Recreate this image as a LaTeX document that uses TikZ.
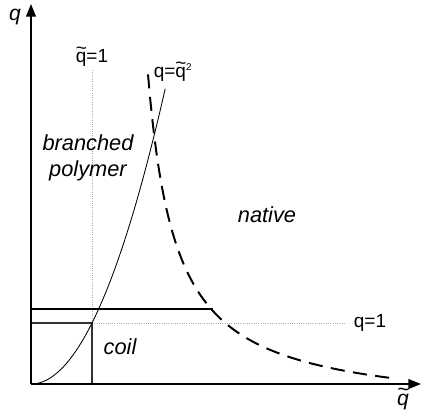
\documentclass[tikz,border=0pt]{standalone}
\usepackage{fontspec}
\setmainfont{Liberation Sans}
\usetikzlibrary{arrows.meta}
\newcommand\tq{\makebox[0pt][l]{\raisebox{0.40em}{\textasciitilde}}q}
\begin{document}
\begin{tikzpicture}[x=0.025cm,y=-0.025cm,
 axis/.style={line width=1pt, -{Triangle[length=9pt,width=7pt]}},
 guide/.style={gray!65, densely dotted, line width=0.6pt},
 boxline/.style={black!80, line width=1pt},
 limitline/.style={black, line width=1.4pt},
 dashcurve/.style={black, line width=1.4pt, dash pattern=on 10pt off 6pt},
 parab/.style={black, line width=0.6pt},
 region/.style={font=\fontsize{15.5}{18.5}\selectfont\itshape, align=center},
 lbl/.style={font=\fontsize{13.5}{16}\selectfont},
 axlbl/.style={font=\fontsize{15}{18}\selectfont\itshape},
]
\useasboundingbox (0,0) rectangle (422,413);
% key points
\coordinate (O) at (31,384);
\coordinate (ytop) at (31,4);
\coordinate (xend) at (421,384);
\coordinate (P11) at (92,323);
\coordinate (X1) at (92,384);
\coordinate (Y1) at (31,323);
\coordinate (vtop) at (92,70);
\coordinate (hend) at (346,323);
\coordinate (tl) at (31,309);
\coordinate (tr) at (213,309);
% guides
\draw[guide] (P11) -- (vtop);
\draw[guide] (P11) -- (hend);
% coil box
\draw[boxline] (Y1) -- (P11) -- (X1);
% thick horizontal
\draw[limitline] (tl) -- (tr);
% parabola q = qt^2
\draw[parab] plot[domain=0:2.2, samples=80] ({31+61*\x},{384-61*\x*\x});
% dashed boundary
\draw[dashcurve] plot[domain=148:390, samples=120] (\x,{413-9480/(\x-120)});
% axes
\draw[axis] (O) -- (ytop);
\draw[axis] (O) -- (xend);
% labels
\node[axlbl] (qlab) at (15,17) {q};
\node[axlbl, inner sep=1pt] (qtlab) at (403,399) {\tq};
\node[lbl] (qt1) at (92,57) {\tq=1};
\node[lbl] (q1) at (370,323) {q=1};
\node[lbl] (qq2) at (173,72) {q=\tq\textsuperscript{\scriptsize 2}};
\node[region] (bp) at (88,158) {branched\\polymer};
\node[region] (nat) at (267,215) {native};
\node[region] (coil) at (120,347) {coil};
\end{tikzpicture}
\end{document}
